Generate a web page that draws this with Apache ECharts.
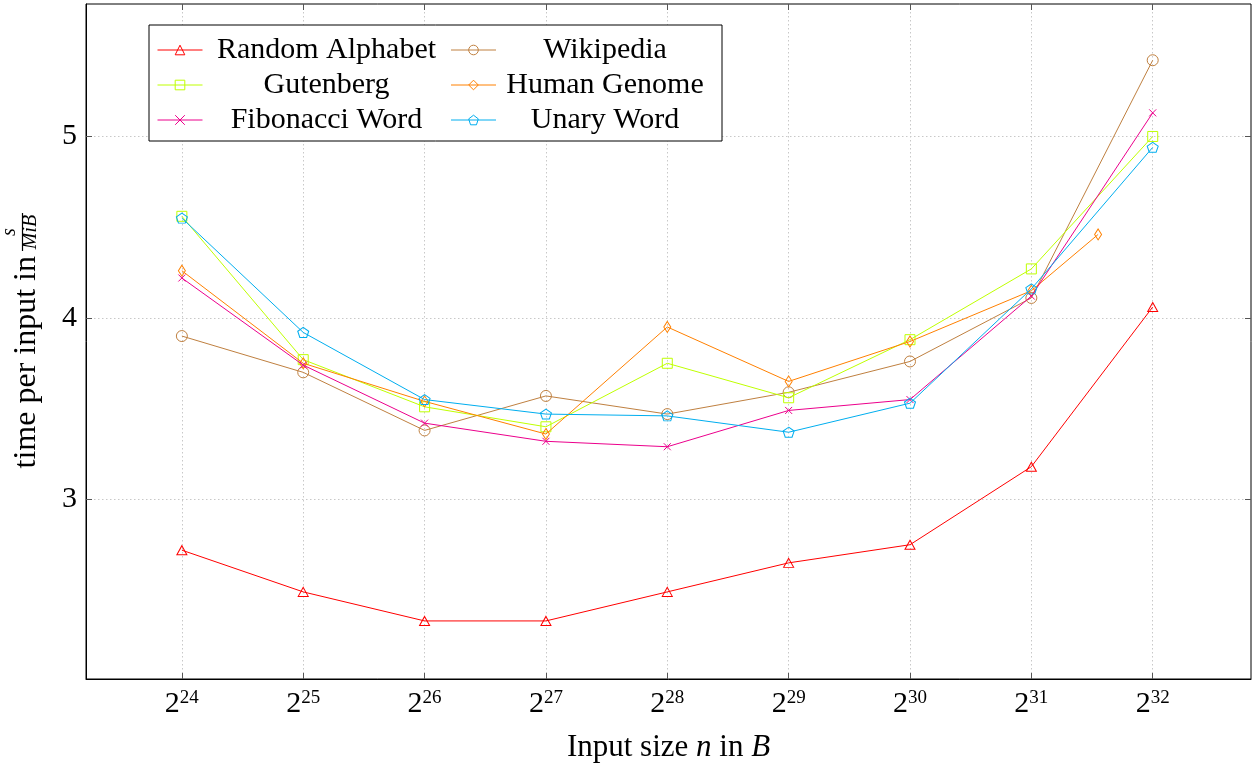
<!DOCTYPE html>
<html>
<head>
<meta charset="utf-8">
<script src="https://cdn.jsdelivr.net/npm/echarts@6/dist/echarts.min.js"></script>
<style>html,body{margin:0;padding:0;background:#fff}#c{width:1255px;height:764px}</style>
</head>
<body>
<div id="c"></div>
<script>
// ---- data (x = log2 of input size in bytes) ----
const exponents = [24, 25, 26, 27, 28, 29, 30, 31, 32];
const humanGenomeExponents = [24, 25, 26, 27, 28, 29, 30, 31, 31.55];
const xTickValues = [24, 25, 26, 27, 28, 29, 30, 31, 32];
const yTickValues = [3, 4, 5];

const randomAlphabet = [2.72, 2.49, 2.33, 2.33, 2.49, 2.65, 2.75, 3.18, 4.06];
const wikipedia      = [3.90, 3.70, 3.38, 3.57, 3.47, 3.59, 3.76, 4.11, 5.42];
const gutenberg      = [4.56, 3.77, 3.51, 3.40, 3.75, 3.56, 3.88, 4.27, 5.00];
const humanGenome    = [4.26, 3.75, 3.54, 3.36, 3.95, 3.65, 3.87, 4.15, 4.46];
const fibonacciWord  = [4.22, 3.74, 3.42, 3.32, 3.29, 3.49, 3.55, 4.12, 5.13];
const unaryWord      = [4.55, 3.92, 3.55, 3.47, 3.46, 3.37, 3.53, 4.16, 4.94];

const seriesNames = ['Random Alphabet', 'Wikipedia', 'Gutenberg', 'Human Genome', 'Fibonacci Word', 'Unary Word'];

const FONT = '"Liberation Serif", "Times New Roman", serif';
const XMARK = 'path://M-1,-1 L1,1 M1,-1 L-1,1';
const PENTA = 'path://M0,-1 L0.951,-0.309 L0.588,0.809 L-0.588,0.809 L-0.951,-0.309 Z';

const styles = [
  {color: '#ff0000', symbol: 'triangle', size: [10, 9]},
  {color: '#bf8040', symbol: 'circle', size: [11, 11]},
  {color: '#bfff00', symbol: 'rect', size: [10, 10]},
  {color: '#ff8000', symbol: 'diamond', size: [7, 11]},
  {color: '#ec008c', symbol: XMARK, size: [7, 7]},
  {color: '#00aeef', symbol: PENTA, size: [11, 10]}
];

function pairs(xs, ys) { return xs.map((x, i) => [x, ys[i]]); }

const seriesData = [
  pairs(exponents, randomAlphabet),
  pairs(exponents, wikipedia),
  pairs(exponents, gutenberg),
  pairs(humanGenomeExponents, humanGenome),
  pairs(exponents, fibonacciWord),
  pairs(exponents, unaryWord)
];

const series = seriesNames.map((name, i) => ({
  name: name,
  type: 'line',
  data: seriesData[i],
  symbol: styles[i].symbol,
  symbolSize: styles[i].size,
  showAllSymbol: true,
  lineStyle: {color: styles[i].color, width: 1},
  itemStyle: {color: 'rgba(255,255,255,0)', borderColor: styles[i].color, borderWidth: 1},
  emphasis: {disabled: true},
  animation: false,
  z: 3 + i
}));

const legendData = seriesNames.map((name, i) => ({
  name: name,
  itemStyle: {color: 'rgba(255,255,255,0)', borderColor: styles[i].color, borderWidth: 1},
  lineStyle: {color: styles[i].color, width: 1}
}));

const gridLine = {show: true, lineStyle: {color: '#c8c8c8', type: [1.5, 2.5], width: 1}};

const chart = echarts.init(document.getElementById('c'), null, {renderer: 'canvas'});
chart.setOption({
  animation: false,
  backgroundColor: '#fff',
  grid: {left: 86, right: 4, top: 4, bottom: 85, show: true, borderColor: '#000', borderWidth: 1, backgroundColor: 'transparent', outerBoundsMode: 'none'},
  legend: {
    data: legendData,
    left: 149, top: 25,
    width: 555,
    orient: 'horizontal',
    padding: [10, 13, 6, 8],
    itemGap: 5,
    itemWidth: 45,
    itemHeight: 12,
    borderColor: '#000',
    borderWidth: 1,
    backgroundColor: '#fff',
    selectedMode: false,
    formatter: function (name) {
      const idx = seriesNames.indexOf(name);
      return (idx % 2 === 0 ? '{a|' : '{b|') + name + '}';
    },
    textStyle: {
      color: '#000', fontFamily: FONT, fontSize: 30,
      rich: {
        a: {width: 238, align: 'center', fontFamily: FONT, fontSize: 30, lineHeight: 30, color: '#000'},
        b: {width: 208, align: 'center', fontFamily: FONT, fontSize: 30, lineHeight: 30, color: '#000'}
      }
    }
  },
  xAxis: [{
    type: 'value', min: 23.21, max: 32.81, position: 'bottom',
    axisLine: {show: true, onZero: false, lineStyle: {color: '#000', width: 1}},
    axisTick: {show: true, inside: true, length: 6, customValues: xTickValues, lineStyle: {color: '#555', width: 1}},
    axisLabel: {
      show: true, margin: 10, customValues: xTickValues,
      formatter: function (v) { return '{b|2}{s|' + v + '}'; },
      rich: {
        b: {fontFamily: FONT, fontSize: 30, lineHeight: 30, color: '#000'},
        s: {fontFamily: FONT, fontSize: 19, lineHeight: 16, verticalAlign: 'top', color: '#000'}
      }
    },
    splitLine: gridLine,
    name: '{r|Input size }{i|n}{r| in }{i|B}',
    nameLocation: 'middle',
    nameGap: 53,
    nameTextStyle: {
      rich: {
        r: {fontFamily: FONT, fontSize: 31, color: '#000'},
        i: {fontFamily: FONT, fontSize: 31, fontStyle: 'italic', color: '#000'}
      }
    }
  }, {
    type: 'value', min: 23.21, max: 32.81, position: 'top',
    axisLine: {show: false},
    axisTick: {show: true, inside: true, length: 6, customValues: xTickValues, lineStyle: {color: '#555', width: 1}},
    axisLabel: {show: false},
    splitLine: {show: false}
  }],
  yAxis: [{
    type: 'value', min: 2.01, max: 5.73, position: 'left',
    axisLine: {show: true, onZero: false, lineStyle: {color: '#000', width: 1}},
    axisTick: {show: true, inside: true, length: 6, customValues: yTickValues, lineStyle: {color: '#555', width: 1}},
    axisLabel: {show: true, margin: 9, customValues: yTickValues, fontFamily: FONT, fontSize: 30, color: '#000'},
    splitLine: gridLine
  }, {
    type: 'value', min: 2.01, max: 5.73, position: 'right',
    axisLine: {show: false},
    axisTick: {show: true, inside: true, length: 6, customValues: yTickValues, lineStyle: {color: '#555', width: 1}},
    axisLabel: {show: false},
    splitLine: {show: false}
  }],
  graphic: [{
    type: 'group', x: 38, y: 252, rotation: Math.PI / 2,
    children: [
      {type: 'text', x: -4, y: -11, style: {text: 'time per input in', font: '32px ' + FONT, fill: '#000', align: 'right', verticalAlign: 'middle'}},
      {type: 'text', x: 20, y: -28, style: {text: 's', font: 'italic 20px ' + FONT, fill: '#000', align: 'center', verticalAlign: 'middle'}},
      {type: 'line', shape: {x1: 1, y1: -15.5, x2: 39, y2: -15.5}, style: {stroke: '#000', lineWidth: 1.2}},
      {type: 'text', x: 20, y: -7, style: {text: 'MiB', font: 'italic 20px ' + FONT, fill: '#000', align: 'center', verticalAlign: 'middle'}}
    ]
  }],
  series: series
});
</script>
</body>
</html>
